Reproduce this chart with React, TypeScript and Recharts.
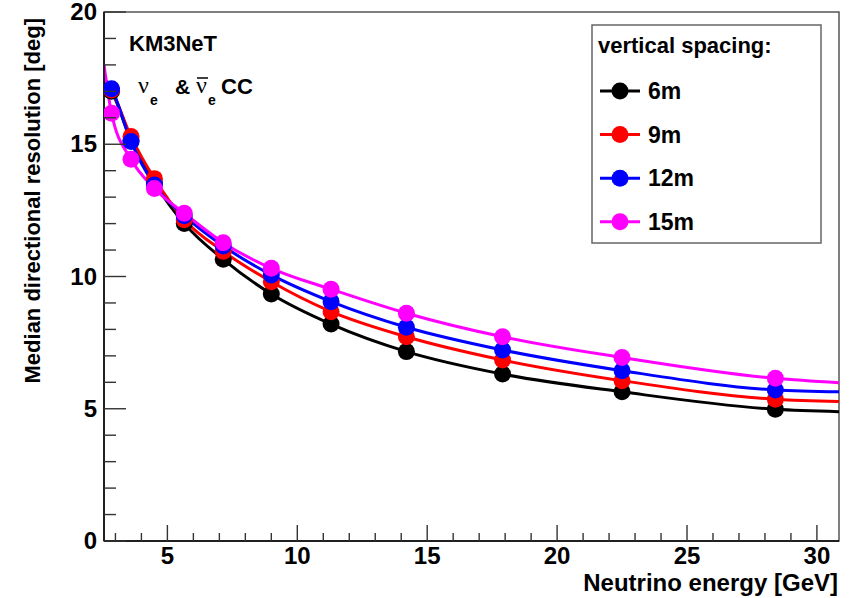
import React from 'react';
import { ComposedChart, Line, Scatter, XAxis, YAxis, ReferenceArea } from 'recharts';

// neutrino energy of each point [GeV]
const energy = [2.85, 3.6, 4.5, 5.65, 7.15, 9.0, 11.3, 14.2, 17.9, 22.5, 28.4];

// median directional resolution [deg] per vertical spacing
const res6m = [17.0, 15.15, 13.55, 12.0, 10.65, 9.34, 8.2, 7.16, 6.31, 5.64, 4.98];
const res9m = [17.05, 15.29, 13.7, 12.15, 10.95, 9.8, 8.67, 7.72, 6.84, 6.06, 5.36];
const res12m = [17.1, 15.1, 13.46, 12.3, 11.15, 10.06, 9.05, 8.08, 7.22, 6.44, 5.71];
const res15m = [16.17, 14.43, 13.33, 12.39, 11.28, 10.31, 9.52, 8.61, 7.72, 6.94, 6.15];

// the fitted curves run to the frame on both sides
const xEdges = [2.56, 30.85];
const edge6m = [17.4, 4.89];
const edge9m = [17.5, 5.27];
const edge12m = [17.5, 5.64];
const edge15m = [18.0, 5.98];

const xTicks = [3, 4, 5, 6, 7, 8, 9, 10, 11, 12, 13, 14, 15, 16, 17, 18, 19, 20, 21, 22, 23, 24, 25, 26, 27, 28, 29, 30];
const xLabels = [5, 10, 15, 20, 25, 30];
const yTicks = [0, 1, 2, 3, 4, 5, 6, 7, 8, 9, 10, 11, 12, 13, 14, 15, 16, 17, 18, 19, 20];
const yLabels = [0, 5, 10, 15, 20];

const series = [
    { name: '6m', color: '#000000', values: res6m, edges: edge6m },
    { name: '9m', color: '#ff0000', values: res9m, edges: edge9m },
    { name: '12m', color: '#0000ff', values: res12m, edges: edge12m },
    { name: '15m', color: '#ff00ff', values: res15m, edges: edge15m },
];

const FONT = '"Liberation Sans", Arial, Helvetica, sans-serif';
const SERIF = '"Liberation Serif", "DejaVu Serif", serif';

const pointsOf = (values: number[]) => energy.map((x, i) => ({ x, y: values[i] }));
const curveOf = (values: number[], edges: number[]) => [
    { x: xEdges[0], y: edges[0] },
    ...pointsOf(values),
    { x: xEdges[1], y: edges[1] },
];

// ROOT-style ticks: pointing inward, longer on labelled values
const XTick = (props: any) => {
    const { x, y, payload } = props;
    const major = xLabels.includes(payload.value);
    return (
        <g>
            <line x1={x} y1={y} x2={x} y2={y - (major ? 16 : 8)} stroke="#333" strokeWidth={1.4} />
            {major && (
                <text x={x} y={y + 23} textAnchor="middle" fontFamily={FONT} fontWeight="bold" fontSize={24} fill="#000">
                    {payload.value}
                </text>
            )}
        </g>
    );
};

const YTick = (props: any) => {
    const { x, y, payload } = props;
    const major = yLabels.includes(payload.value);
    return (
        <g>
            <line x1={x} y1={y} x2={x + (major ? 22 : 12)} y2={y} stroke="#333" strokeWidth={1.4} />
            {major && (
                <text x={x - 7} y={y + 8} textAnchor="end" fontFamily={FONT} fontWeight="bold" fontSize={24} fill="#000">
                    {payload.value}
                </text>
            )}
        </g>
    );
};

const Dot = (color: string) => (props: any) => (
    <circle cx={props.cx} cy={props.cy} r={8.5} fill={color} />
);

const App: React.FC = () => {
    return (
        <div style={{ position: 'absolute', left: 0, top: 0, width: 859, height: 598, background: '#fff' }}>
            <ComposedChart width={859} height={598} margin={{ top: 12, right: 20, bottom: 0, left: 0 }}>
                <XAxis
                    dataKey="x"
                    type="number"
                    domain={xEdges}
                    allowDataOverflow
                    ticks={xTicks}
                    interval={0}
                    height={57}
                    tickSize={0}
                    tickMargin={0}
                    tickLine={false}
                    axisLine={{ stroke: '#000', strokeWidth: 1.5 }}
                    tick={(p: any) => <XTick {...p} />}
                />
                <YAxis
                    dataKey="y"
                    type="number"
                    domain={[0, 20]}
                    allowDataOverflow
                    ticks={yTicks}
                    interval={0}
                    width={104}
                    tickSize={0}
                    tickMargin={0}
                    tickLine={false}
                    axisLine={{ stroke: '#000', strokeWidth: 1.5 }}
                    tick={(p: any) => <YTick {...p} />}
                />
                <ReferenceArea x1={xEdges[0]} x2={xEdges[1]} y1={0} y2={20} fill="none" stroke="#555" strokeWidth={1.5} />
                {series.flatMap((s) => [
                    <Line
                        key={s.name + '-line'}
                        data={curveOf(s.values, s.edges)}
                        dataKey="y"
                        type="monotone"
                        stroke={s.color}
                        strokeWidth={3}
                        dot={false}
                        activeDot={false}
                        isAnimationActive={false}
                    />,
                    <Scatter
                        key={s.name + '-pts'}
                        data={pointsOf(s.values)}
                        dataKey="y"
                        fill={s.color}
                        shape={Dot(s.color)}
                        isAnimationActive={false}
                    />,
                ])}
            </ComposedChart>

            <svg width={859} height={598} style={{ position: 'absolute', left: 0, top: 0, pointerEvents: 'none' }}>
                {/* axis titles */}
                <text x={838} y={591} textAnchor="end" fontFamily={FONT} fontWeight="bold" fontSize={24} fill="#000">
                    Neutrino energy [GeV]
                </text>
                <text x={40} y={18} transform="rotate(-90 40 18)" textAnchor="end" fontFamily={FONT} fontWeight="bold" fontSize={22} fill="#000">
                    Median directional resolution [deg]
                </text>

                {/* experiment + channel */}
                <text x={129} y={51} fontFamily={FONT} fontWeight="bold" fontSize={22} fill="#000">KM3NeT</text>
                <text x={138} y={93} fontFamily={SERIF} fontSize={24} fill="#000">ν</text>
                <text x={150} y={105} fontFamily={FONT} fontWeight="bold" fontSize={14} fill="#000">e</text>
                <text x={175} y={94} fontFamily={FONT} fontWeight="bold" fontSize={21} fill="#000">&amp;</text>
                <text x={196} y={93} fontFamily={SERIF} fontSize={24} fill="#000">ν</text>
                <line x1={197} y1={78} x2={208} y2={78} stroke="#000" strokeWidth={1.5} />
                <text x={208} y={105} fontFamily={FONT} fontWeight="bold" fontSize={14} fill="#000">e</text>
                <text x={221} y={94} fontFamily={FONT} fontWeight="bold" fontSize={22} fill="#000">CC</text>

                {/* legend */}
                <rect x={592} y={25} width={229} height={218} fill="#fff" stroke="#666" strokeWidth={1.5} />
                <text x={598} y={53} fontFamily={FONT} fontWeight="bold" fontSize={22} fill="#000">vertical spacing:</text>
                {series.map((s, i) => {
                    const cy = 91 + i * 43.6;
                    return (
                        <g key={s.name}>
                            <line x1={600} y1={cy} x2={640} y2={cy} stroke={s.color} strokeWidth={3} />
                            <circle cx={620} cy={cy} r={8.5} fill={s.color} />
                            <text x={648} y={cy + 8} fontFamily={FONT} fontWeight="bold" fontSize={23} fill="#000">
                                {s.name}
                            </text>
                        </g>
                    );
                })}
            </svg>
        </div>
    );
};

export default App;
